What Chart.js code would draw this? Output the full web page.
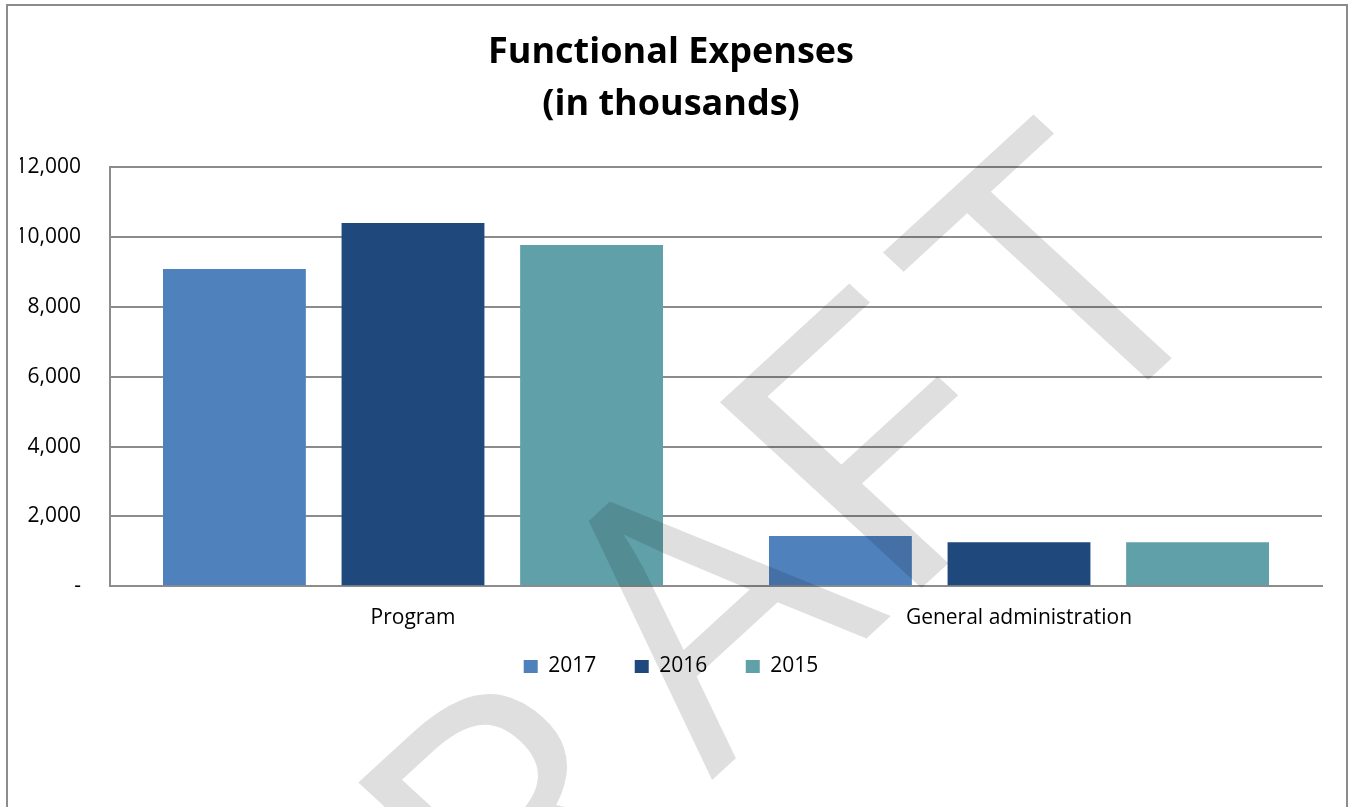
<!DOCTYPE html>
<html>
<head>
<meta charset="utf-8">
<title>Functional Expenses</title>
<script src="https://cdn.jsdelivr.net/npm/chart.js@4.4.0/dist/chart.umd.min.js"></script>
<style>
  html, body { margin: 0; padding: 0; background: #fff; overflow: hidden; }
  #frame { position: absolute; left: 6px; top: 4px; width: 1338px; height: 900px; border: 2px solid #8c8c8c; }
  #chart { position: absolute; left: 0; top: 0; }
</style>
</head>
<body>
<div id="frame"></div>
<canvas id="chart" width="1351" height="807"></canvas>
<script>
// --- Data ---
const categories = ['Program', 'General administration'];
const seriesNames = ['2017', '2016', '2015'];
const values2017 = [9080, 1440];
const values2016 = [10400, 1260];
const values2015 = [9770, 1260];
const yTickValues = [0, 2000, 4000, 6000, 8000, 10000, 12000];
const titleLines = ['Functional Expenses', '(in thousands)'];
const seriesColors = ['#4f81bd', '#1f497d', '#60a0a8'];

const FONT = '"Open Sans", sans-serif';
const GRID = '#8c8c8c';

// big diagonal "DRAFT" stamp over the page
const draftStamp = {
    id: 'draftStamp',
    afterLayout(chart) {
        // legend sits closer to the axis labels than its padding allows
        chart.legend.top -= 32;
        chart.legend.bottom -= 32;
    },
    afterDraw(chart) {
        const ctx = chart.ctx;
        ctx.save();
        ctx.setTransform(0.737, -0.676, 0.7355, 0.6777, 715.8, 776.6);
        ctx.fillStyle = 'rgba(0,0,0,0.125)';
        ctx.font = '384px ' + FONT;
        ctx.textAlign = 'left';
        ctx.textBaseline = 'alphabetic';
        // letter, x, y, horizontal stretch
        const letters = [['D', -575, 36, 1], ['R', -285, 36, 1], ['A', -5, 0, 1], ['F', 236, 0, 1.15], ['T', 497, 0, 1]];
        letters.forEach(([ch, x, y, sx]) => {
            ctx.save();
            ctx.translate(x, y);
            ctx.scale(sx, 1);
            ctx.fillText(ch, 0, 0);
            ctx.restore();
        });
        ctx.restore();
    }
};

new Chart(document.getElementById('chart').getContext('2d'), {
    type: 'bar',
    data: {
        labels: categories,
        datasets: [
            { label: seriesNames[0], data: values2017, backgroundColor: seriesColors[0] },
            { label: seriesNames[1], data: values2016, backgroundColor: seriesColors[1] },
            { label: seriesNames[2], data: values2015, backgroundColor: seriesColors[2] }
        ]
    },
    options: {
        responsive: false,
        animation: false,
        categoryPercentage: 0.884,
        barPercentage: 0.80,
        layout: { padding: { left: 20, right: 29, top: 0, bottom: 88 } },
        scales: {
            x: {
                grid: { display: false, drawTicks: false },
                border: { display: true, color: GRID, width: 2 },
                ticks: { color: '#000', padding: 19, font: { family: FONT, size: 21 } }
            },
            y: {
                min: 0,
                max: 12000,
                afterBuildTicks(scale) { scale.ticks = yTickValues.map(v => ({ value: v })); },
                grid: { color: GRID, lineWidth: 2, drawTicks: false },
                border: { display: true, color: GRID, width: 2 },
                ticks: {
                    color: '#000',
                    padding: 29,
                    font: { family: FONT, size: 21 },
                    callback: v => v === 0 ? '-' : v.toLocaleString('en-US')
                },
                afterFit(scale) { scale.width = 90; }
            }
        },
        plugins: {
            title: {
                display: true,
                text: titleLines,
                color: '#000',
                font: { family: FONT, size: 36, weight: 'bold', lineHeight: 52 / 36 },
                padding: { top: 27, bottom: 36 }
            },
            legend: {
                position: 'bottom',
                labels: {
                    color: '#000',
                    boxWidth: 14,
                    boxHeight: 13,
                    padding: 38.5,
                    font: { family: FONT, size: 21 }
                }
            },
            tooltip: { enabled: false }
        }
    },
    plugins: [draftStamp]
});
</script>
</body>
</html>
